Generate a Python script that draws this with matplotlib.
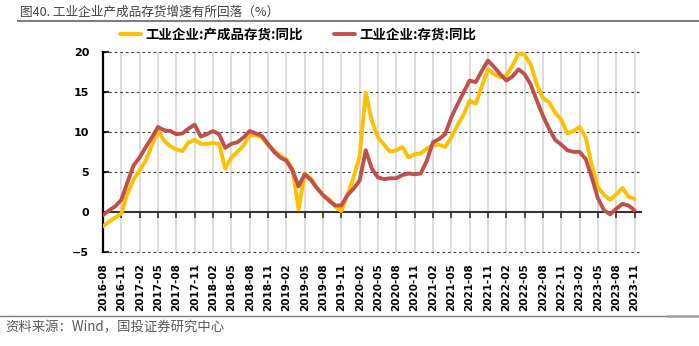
import matplotlib
matplotlib.use("Agg")
import matplotlib.pyplot as plt
from matplotlib.lines import Line2D
import numpy as np
import pandas as pd

# ---------------- data ----------------
months = pd.period_range("2016-08", "2023-11", freq="M").strftime("%Y-%m").tolist()

finished_goods = [
    -1.8, -1.2, -0.7, -0.2, 2.3, 4.0, 5.2, 6.4, 8.3, 10.2,
    8.9, 8.2, 7.8, 7.6, 8.7, 9.0, 8.5, 8.5, 8.6, 8.5,
    5.4, 6.8, 7.5, 8.3, 9.5, 9.6, 9.3, 8.3, 7.7, 7.0,
    6.6, 5.4, 0.3, 4.8, 4.2, 3.0, 2.1, 1.6, 0.7, 0.1,
    2.1, 4.3, 7.0, 14.9, 11.4, 9.3, 8.4, 7.5, 7.7, 8.1,
    6.8, 7.2, 7.3, 7.9, 8.3, 8.4, 8.1, 9.3, 10.8, 12.1,
    13.9, 13.5, 15.7, 17.8, 17.2, 16.8, 17.0, 18.2, 19.8, 19.6,
    18.4, 15.9, 14.2, 13.7, 12.4, 11.5, 9.8, 10.1, 10.6, 9.3,
    5.8, 3.1, 2.1, 1.5, 2.2, 3.0, 1.9, 1.6,
]

inventory = [
    -0.4, 0.2, 0.7, 1.5, 3.7, 5.8, 6.8, 8.1, 9.3, 10.6,
    10.2, 10.1, 9.7, 9.8, 10.4, 10.9, 9.4, 9.7, 10.1, 9.7,
    8.0, 8.5, 8.7, 9.3, 10.1, 9.8, 9.5, 8.5, 7.5, 6.8,
    6.4, 5.2, 3.2, 4.7, 4.0, 3.0, 2.1, 1.4, 0.8, 0.8,
    2.1, 2.9, 3.9, 7.7, 5.4, 4.3, 4.1, 4.2, 4.2, 4.6,
    4.8, 4.7, 4.8, 6.4, 8.7, 9.1, 9.7, 11.8, 13.4, 14.9,
    16.4, 16.2, 17.6, 18.9, 18.1, 17.2, 16.4, 16.9, 17.8, 17.2,
    15.9, 13.9, 12.0, 10.4, 9.0, 8.4, 7.7, 7.5, 7.5, 6.6,
    4.3, 1.7, 0.2, -0.3, 0.4, 1.0, 0.8, 0.2,
]

series_names = ["工业企业:产成品存货:同比", "工业企业:存货:同比"]
series_colors = ["#FFC000", "#C0504D"]
yticks = [-5, 0, 5, 10, 15, 20]
title = "图40. 工业企业产成品存货增速有所回落（%）"
source = "资料来源：Wind，国投证券研究中心"

CJK = ["Noto Sans CJK SC", "DejaVu Sans"]
plt.rcParams["font.family"] = ["DejaVu Sans", "Noto Sans CJK SC"]
plt.rcParams["axes.unicode_minus"] = True

W, H = 699, 346
fig = plt.figure(figsize=(W / 100, H / 100), dpi=100)
left_px, right_px, top_px, bot_px = 103, 640.7, 51.7, 252
ax = fig.add_axes([left_px / W, 1 - bot_px / H, (right_px - left_px) / W, (bot_px - top_px) / H])

x = np.arange(len(months))
tick_idx = x[::3]

ax.set_xlim(0, len(months))
ax.set_ylim(-5, 20)

# vertical light gridlines
for t in tick_idx:
    ax.axvline(t, color="#D9D9D9", lw=1.3, zorder=0)
# horizontal dashed gridlines
for yv in yticks:
    if yv != 0:
        ax.axhline(yv, color="#404040", lw=0.8, ls=(0, (2.5, 2.5)), zorder=1, clip_on=False)

l1, = ax.plot(x, finished_goods, color=series_colors[0], lw=2.8, solid_joinstyle="round",
              solid_capstyle="round", zorder=3, label=series_names[0])
l2, = ax.plot(x, inventory, color=series_colors[1], lw=2.8, solid_joinstyle="round",
              solid_capstyle="round", zorder=4, label=series_names[1])

# spines
for s in ["top", "right", "bottom"]:
    ax.spines[s].set_visible(False)
ax.spines["left"].set_color("black")
ax.spines["left"].set_linewidth(1.6)

ax.set_yticks(yticks)
ax.tick_params(axis="y", direction="in", length=4, width=1.2, pad=10, labelsize=8)
for lab in ax.get_yticklabels():
    lab.set_fontweight("bold")

ax.set_xticks(tick_idx)
ax.set_xticklabels([months[i] for i in tick_idx], rotation=90, fontsize=7.5,
                   fontweight="bold", va="top", ha="center")
ax.tick_params(axis="x", length=0, pad=8)

# zero axis with tick marks
sec = ax.secondary_xaxis(0, transform=ax.transData)
sec.set_xticks(tick_idx)
sec.set_xticklabels([])
sec.tick_params(axis="x", direction="out", length=4, width=1.2, color="#333333")
sec.spines["bottom"].set_color("#333333")
sec.spines["bottom"].set_linewidth(1.5)

# legend
fig.legend(handles=[l1, l2], labels=series_names, loc="center left",
           bbox_to_anchor=(113 / W, 1 - 35 / H), ncol=2, frameon=False,
           borderpad=0, handlelength=1.6, handletextpad=0.3, columnspacing=2.3,
           prop={"family": CJK, "size": 9.7, "weight": "bold"})

# title and rules
fig.text(20 / W, 1 - 12 / H, title, ha="left", va="center", fontsize=9.1,
         color="#404040", family=CJK)
fig.add_artist(Line2D([18 / W, 1], [1 - 21 / H] * 2, transform=fig.transFigure,
                      color="#7F7F7F", lw=1.5))
fig.add_artist(Line2D([0, 668 / W], [1 - 316 / H] * 2, transform=fig.transFigure,
                      color="#7F7F7F", lw=1.0))
fig.add_artist(Line2D([668 / W, 1], [1 - 315.5 / H] * 2, transform=fig.transFigure,
                      color="#A6A6A6", lw=2.0))
fig.text(5 / W, 1 - 327 / H, source, ha="left", va="center", fontsize=9.6,
         color="#595959", family=CJK, style="italic")

fig.savefig("out.png", dpi=100)
